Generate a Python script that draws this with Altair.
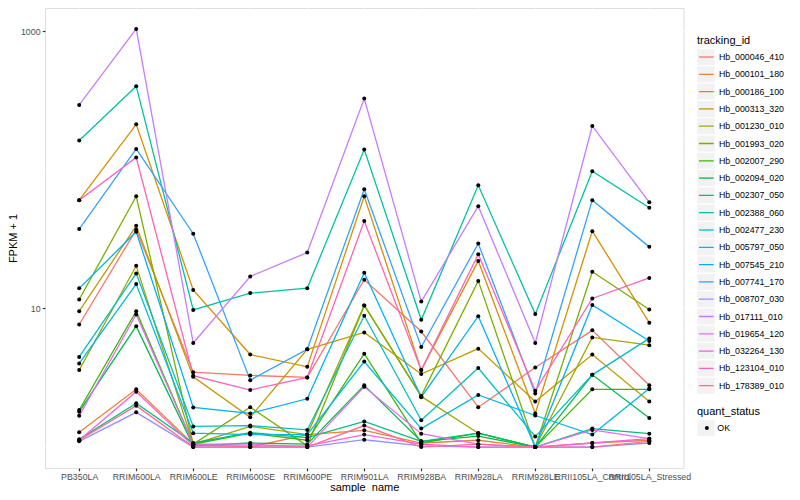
import altair as alt
import pandas as pd

samples = ["PB350LA", "RRIM600LA", "RRIM600LE", "RRIM600SE", "RRIM600PE", "RRIM901LA",
           "RRIM928BA", "RRIM928LA", "RRIM928LE", "RRII105LA_Control", "RRII105LA_Stressed"]

tracking_ids = ["Hb_000046_410", "Hb_000101_180", "Hb_000186_100", "Hb_000313_320",
                "Hb_001230_010", "Hb_001993_020", "Hb_002007_290", "Hb_002094_020",
                "Hb_002307_050", "Hb_002388_060", "Hb_002477_230", "Hb_005797_050",
                "Hb_007545_210", "Hb_007741_170", "Hb_008707_030", "Hb_017111_010",
                "Hb_019654_120", "Hb_032264_130", "Hb_123104_010", "Hb_178389_010"]

colors = ["#F8766D", "#EA8331", "#D89000", "#C09B00", "#A3A500", "#7CAE00", "#39B600",
          "#00BB4E", "#00BF7D", "#00C1A3", "#00BFC4", "#00BAE0", "#00B0F6", "#35A2FF",
          "#9590FF", "#C77CFF", "#E76BF3", "#FA62DB", "#FF62BC", "#FF6C91"]

quant_levels = ["OK"]

# FPKM + 1, one list per tracking_id, in sample order
hb_000046_410 = [7.66, 37.0, 3.47, 3.29, 3.18, 16.1, 6.82, 1.94, 3.75, 6.95, 2.79]
hb_000101_180 = [1.28, 2.61, 1.05, 1.0, 1.23, 1.32, 1.07, 1.12, 1.0, 1.07, 1.12]
hb_000186_100 = [60.4, 212.8, 13.6, 4.65, 3.79, 64.4, 3.59, 22.0, 1.75, 36.1, 7.89]
hb_000313_320 = [9.55, 39.4, 3.21, 1.64, 5.07, 6.71, 3.36, 5.13, 2.13, 4.65, 2.13]
hb_001230_010 = [3.59, 20.3, 1.05, 1.41, 1.23, 10.5, 2.32, 1.26, 1.0, 6.18, 5.43]
hb_001993_020 = [11.6, 64.4, 1.05, 1.94, 1.02, 10.5, 2.34, 15.8, 1.0, 18.4, 9.82]
hb_002007_290 = [1.85, 9.55, 1.05, 1.26, 1.12, 4.72, 1.07, 1.26, 1.0, 2.61, 2.61]
hb_002094_020 = [1.80, 7.45, 1.02, 1.07, 1.05, 2.79, 1.10, 1.20, 1.0, 3.32, 1.62]
hb_002307_050 = [1.14, 2.07, 1.07, 1.27, 1.17, 1.53, 1.10, 1.26, 1.0, 1.36, 1.25]
hb_002388_060 = [162.6, 400.9, 9.75, 12.9, 14.0, 140.0, 8.28, 77.3, 9.10, 97.5, 53.2]
hb_002477_230 = [4.47, 17.9, 1.41, 1.43, 1.33, 8.85, 1.56, 3.72, 1.19, 3.32, 6.08]
hb_005797_050 = [4.01, 15.0, 1.26, 1.23, 1.23, 4.14, 1.36, 2.38, 1.69, 1.23, 2.65]
hb_007545_210 = [13.96, 35.7, 1.93, 1.75, 2.23, 18.1, 2.29, 8.79, 1.0, 10.6, 5.82]
hb_007741_170 = [37.4, 141.3, 34.6, 3.04, 5.07, 72.4, 5.27, 29.4, 2.44, 60.4, 27.8]
hb_008707_030 = [1.10, 1.78, 1.0, 1.0, 1.0, 1.13, 1.02, 1.0, 1.0, 1.0, 1.07]
hb_017111_010 = [293.8, 1037.5, 5.64, 17.0, 25.3, 326.6, 11.2, 54.6, 5.64, 207.0, 58.3]
hb_019654_120 = [1.68, 9.04, 1.05, 1.05, 1.0, 2.72, 1.25, 1.05, 1.0, 1.33, 1.15]
hb_032264_130 = [1.12, 2.51, 1.02, 1.02, 1.02, 1.23, 1.05, 1.0, 1.0, 1.07, 1.15]
hb_123104_010 = [60.4, 122.7, 3.27, 2.58, 3.18, 42.7, 3.59, 24.6, 2.55, 11.8, 16.6]
hb_178389_010 = [1.12, 1.99, 1.0, 1.0, 1.0, 1.43, 1.0, 1.05, 1.0, 1.0, 1.10]

series = [hb_000046_410, hb_000101_180, hb_000186_100, hb_000313_320, hb_001230_010,
          hb_001993_020, hb_002007_290, hb_002094_020, hb_002307_050, hb_002388_060,
          hb_002477_230, hb_005797_050, hb_007545_210, hb_007741_170, hb_008707_030,
          hb_017111_010, hb_019654_120, hb_032264_130, hb_123104_010, hb_178389_010]

y_major = [10, 1000]
y_minor = [1, 100]
y_domain = [0.7066, 1468.6]

rows = []
for tid, vals in zip(tracking_ids, series):
    for i, (s, v) in enumerate(zip(samples, vals)):
        rows.append({"tracking_id": tid, "sample_name": s, "idx": i,
                     "fpkm1": v, "quant_status": "OK"})
df = pd.DataFrame(rows)
minor_df = pd.DataFrame({"fpkm1": y_minor})

FONT = "Liberation Sans"
KEY_BG = "#F2F2F2"
ROW_H = 16
ROW_PAD = 1.3

yscale = alt.Scale(type="log", domain=y_domain, nice=False, zero=False)
xscale = alt.Scale(type="point", padding=0.6)

yaxis = alt.Axis(values=y_major, format="d", title="FPKM + 1", grid=True,
                 gridColor="white", gridWidth=1.4, domain=False,
                 tickColor="#333333", tickWidth=1.2, tickSize=2.75,
                 labelColor="#4D4D4D", labelFontSize=8.8, labelPadding=2.2,
                 titleFontSize=11, titleColor="black", titleFontWeight="normal",
                 titleX=-32, titleBaseline="middle")
xaxis = alt.Axis(title="sample_name", labelAngle=0, labelOverlap=False, grid=True,
                 gridColor="white", gridWidth=1.4, domain=False,
                 tickColor="#333333", tickWidth=1.2, tickSize=2.75,
                 labelColor="#4D4D4D", labelFontSize=8.8, labelPadding=1.5,
                 titleFontSize=11, titleColor="black", titleFontWeight="normal",
                 titleY=22.5, titleBaseline="alphabetic")


def legend_common(title, y, **kw):
    base = dict(orient="none", legendX=652, legendY=y, title=title, titleFontSize=11,
                titleFontWeight="normal", titleColor="black", titlePadding=3,
                labelFontSize=8.8, labelColor="black", rowPadding=ROW_PAD,
                clipHeight=ROW_H, padding=0, symbolLimit=40)
    base.update(kw)
    return alt.Legend(**base)


minor = alt.Chart(minor_df).mark_rule(color="white", strokeWidth=0.7).encode(
    y=alt.Y("fpkm1:Q", scale=yscale, axis=yaxis)
)

# grey legend-key backgrounds (legends only, no marks drawn)
bg_kw = dict(symbolType="square", symbolSize=299, symbolStrokeWidth=0, symbolOffset=0,
             labelExpr="''", symbolOpacity=1, zindex=0)
key_bg_ids = alt.Chart(df).transform_filter("false").mark_square(size=0).encode(
    fill=alt.Fill("bg_id:N",
                  scale=alt.Scale(domain=tracking_ids, range=[KEY_BG] * len(tracking_ids)),
                  legend=legend_common(" ", 27, **bg_kw))
)
key_bg_q = alt.Chart(df).transform_filter("false").mark_square(size=0).encode(
    fill=alt.Fill("bg_q:N",
                  scale=alt.Scale(domain=quant_levels, range=[KEY_BG]),
                  legend=legend_common(" ", 398, **bg_kw))
)

lines = alt.Chart(df).mark_line(strokeWidth=1.3).encode(
    x=alt.X("sample_name:N", sort=samples, scale=xscale, axis=xaxis),
    y=alt.Y("fpkm1:Q", scale=yscale, axis=yaxis),
    color=alt.Color("tracking_id:N",
                    scale=alt.Scale(domain=tracking_ids, range=colors),
                    legend=legend_common("tracking_id", 27, symbolType="stroke",
                                         symbolSize=216, symbolStrokeWidth=1.3,
                                         symbolOffset=1.3, labelOffset=4.6, zindex=1)),
    order=alt.Order("idx:Q"),
)

points = alt.Chart(df).mark_point(filled=True, color="black", size=16, opacity=1).encode(
    x=alt.X("sample_name:N", sort=samples, scale=xscale, axis=xaxis),
    y=alt.Y("fpkm1:Q", scale=yscale, axis=yaxis),
    shape=alt.Shape("quant_status:N", scale=alt.Scale(domain=quant_levels, range=["circle"]),
                    legend=legend_common("quant_status", 398, symbolSize=16,
                                         symbolFillColor="black", symbolStrokeWidth=0,
                                         symbolOffset=5.5, labelOffset=6, zindex=1)),
)

chart = alt.layer(minor, key_bg_ids, key_bg_q, lines, points).resolve_scale(
    fill="independent"
).properties(
    width=638.5, height=460,
    autosize=alt.AutoSizeParams(type="none"),
    padding={"left": 37, "top": 0, "right": 108.5, "bottom": 24},
    background="white",
).configure_view(fill="#EBEBEB", stroke=None).configure(font=FONT)

chart.save("out.html", embed_options={"renderer": "svg", "actions": False})
